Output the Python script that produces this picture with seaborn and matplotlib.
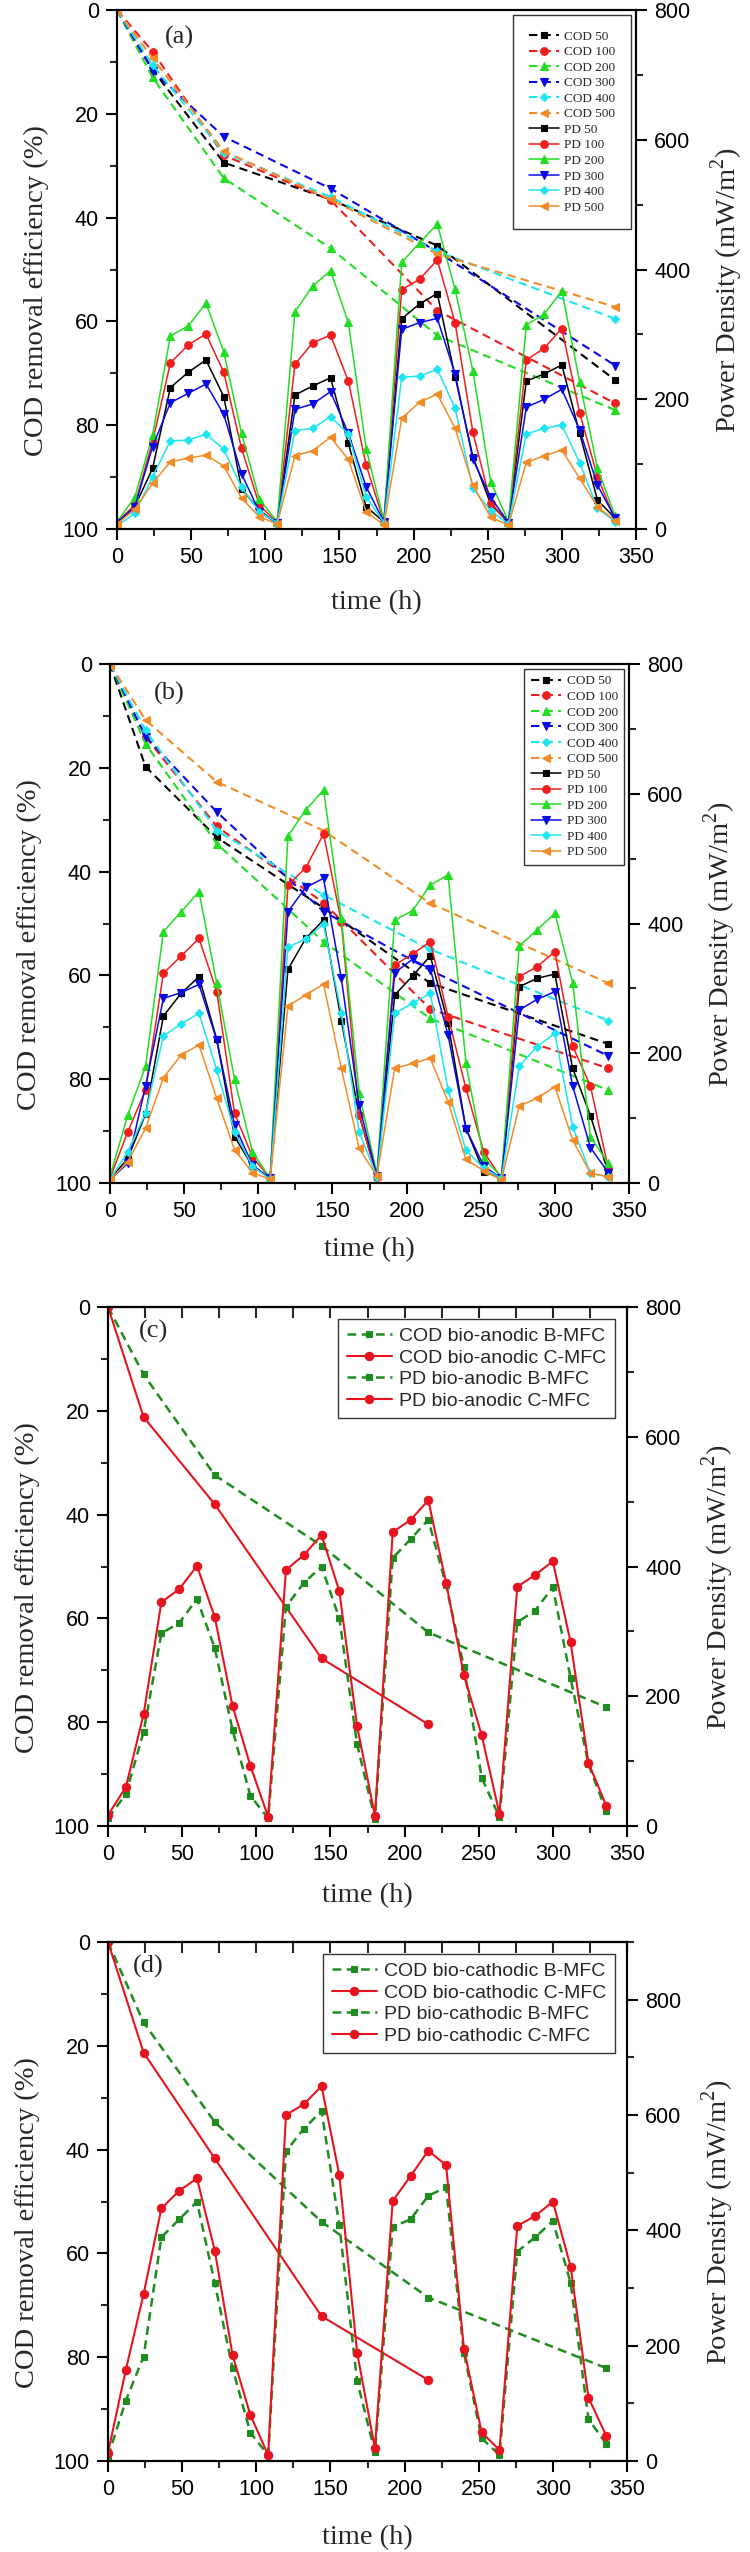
import numpy as np
import pandas as pd
import seaborn as sns
import matplotlib.pyplot as plt
from matplotlib.ticker import MultipleLocator

# time points (h)
t_pd = [0, 12, 24, 36, 48, 60, 72, 84, 96, 108, 120, 132, 144, 156, 168,
        180, 192, 204, 216, 228, 240, 252, 264, 276, 288, 300, 312, 324, 336]
t_cod = [0, 24, 72, 144, 216, 336]
t_cod_short = [0, 24, 72, 144, 216]

conc = ['50', '100', '200', '300', '400', '500']

# panel (a) COD removal (%)
cod_a_50 = [0, 11.5, 29.4, 36.5, 45.4, 71.3]
cod_a_100 = [0, 8.0, 28.0, 36.6, 57.9, 75.8]
cod_a_200 = [0, 13.0, 32.4, 45.9, 62.7, 77.1]
cod_a_300 = [0, 11.7, 24.4, 34.4, 46.6, 68.5]
cod_a_400 = [0, 10.6, 27.5, 36.0, 46.5, 59.5]
cod_a_500 = [0, 9.3, 27.2, 36.5, 47.0, 57.2]

# panel (a) power density (mW/m2)
pd_a_50 = [9.8, 34.4, 93.5, 218, 241.5, 260.5, 204, 62, 29, 8.7, 206.5, 220.4, 233, 132, 34.4,
           11, 324, 346.8, 363, 235, 111.5, 38.5, 9.8, 228, 239, 252.8, 147.5, 44.7, 16.4]
pd_a_100 = [11, 37, 134.6, 256, 283.6, 300.6, 241.5, 124.3, 37, 9.8, 254, 287, 299, 228, 98.7,
            11.3, 369, 385, 414.6, 318, 149, 40.6, 9.8, 260.5, 278.5, 309, 179, 80.7, 13.9]
pd_a_200 = [11.3, 48.8, 145, 297.5, 313, 348, 273, 147.5, 46, 11.3, 335, 374.6, 398, 318.6, 124,
            12.8, 411, 441, 470, 369.4, 243.5, 73, 11.3, 314.5, 331, 367, 227, 93.5, 20]
pd_a_300 = [9.8, 34, 127, 194.7, 209, 223.5, 176.7, 84.8, 26.7, 8.7, 184.5, 192.7, 211.7, 147.5, 65.2,
            11, 307.8, 318, 324.7, 239, 107.4, 48.8, 9.8, 187.6, 199.9, 215.3, 152.6, 67.8, 16.4]
pd_a_400 = [4.6, 24.2, 80.7, 136, 136.8, 146.4, 122.8, 64.2, 26.7, 9.8, 151.6, 155.2, 173.2, 146.4, 49.8,
            9.8, 233.8, 235.8, 246, 186, 62.7, 28.2, 7.7, 146.4, 155.2, 160.3, 102.2, 31.8, 11.3]
pd_a_500 = [7.7, 30.3, 70.4, 103.8, 108.9, 114, 97.1, 47.3, 19, 7.7, 113, 120.7, 141.3, 107.4, 26.7,
            6.2, 170.6, 195.3, 208, 155.2, 67.8, 18, 6.2, 102.8, 112.5, 121.8, 78.1, 34.4, 12.8]

# panel (b) COD removal (%)
cod_b_50 = [0, 19.8, 33.4, 47.0, 61.5, 73.2]
cod_b_100 = [0, 14.0, 31.3, 46.0, 66.5, 77.9]
cod_b_200 = [0, 15.4, 34.6, 53.5, 68.3, 82.1]
cod_b_300 = [0, 14.0, 28.5, 47.7, 59.0, 75.5]
cod_b_400 = [0, 12.8, 32.1, 44.5, 55.0, 68.7]
cod_b_500 = [0, 10.8, 22.7, 32.1, 46.1, 61.5]

# panel (b) power density (mW/m2)
pd_b_50 = [5.6, 38, 106.4, 257.4, 292.4, 318, 221.4, 71.4, 26.2, 7.2, 329.3, 377, 405.4, 250.2, 104.8,
           9.8, 289.8, 319, 350, 246, 84.3, 17.5, 7.2, 302.6, 315.5, 322, 176.7, 103.8, 15.9]
pd_b_100 = [7.2, 79.1, 143.3, 323.2, 350, 377, 295, 107.4, 40.6, 7.2, 459, 486, 538, 402.8, 104.8,
            9.8, 336, 353, 372, 256.4, 146, 48.3, 7.2, 318, 333.5, 356.6, 211, 149.5, 22.6]
pd_b_200 = [9.8, 104.8, 180, 387.4, 418, 449, 307.7, 159.8, 48.3, 7.2, 535, 575, 605.8, 408, 139.2,
            13.9, 405.4, 419.8, 459.3, 474.8, 185.5, 38, 9.8, 365.3, 390, 415.7, 308.8, 71.4, 30.3]
pd_b_300 = [5.6, 30.3, 149.5, 284.6, 293.4, 306.2, 220, 89.4, 27.7, 7.2, 418.2, 455.7, 469.6, 315.5, 120.2,
            10.8, 324.2, 344.7, 330, 228, 84, 26.2, 7.2, 266.7, 283, 295, 149.5, 54.5, 15.9]
pd_b_400 = [5.6, 48.3, 107.4, 226.6, 245, 261.5, 174.2, 79.1, 26.2, 5.6, 364.3, 375.6, 399.2, 261.5, 79.1,
            9.8, 261.5, 277, 292.4, 143.3, 50.9, 22.6, 7.2, 180.3, 210.1, 230.7, 86.8, 14.9, 9.8]
pd_b_500 = [5.1, 32.9, 84.3, 162.3, 197.3, 212.7, 130.5, 50.9, 15.9, 5.6, 272.8, 289.8, 306.7, 176.7, 53.4,
            10.8, 176.7, 184.4, 192.1, 125.4, 36.5, 19, 5.1, 118.7, 130.5, 148.5, 66.3, 14.9, 9.8]

# panel (c) bio-anodic
cod_c_b = [0, 13.0, 32.4, 46.0, 62.7, 77.1]
cod_c_c = [0, 21.2, 38.0, 67.7, 80.4]
pd_c_b = [11.8, 49, 145, 297, 313, 350, 274, 148, 46.7, 11.8, 338, 374.5, 400, 320, 126,
          10.8, 413, 442, 472, 371, 245.6, 74.5, 13.4, 314, 332, 368, 227.7, 95, 23]
pd_c_c = [17, 59.6, 172, 345, 365, 401, 322, 185, 93, 14, 394.6, 417.5, 448.6, 362, 154,
          15.4, 453, 471.7, 502, 375, 232.7, 140, 18.5, 368.7, 387, 408, 283, 97.6, 31.3]

# panel (d) bio-cathodic
cod_d_b = [0, 15.5, 34.7, 53.9, 68.5, 82.1]
cod_d_c = [0, 21.3, 41.7, 72.1, 84.4]
pd_d_b = [7.5, 104.6, 181, 388, 419, 449.6, 308, 160.7, 49, 10.4, 537, 576, 607, 409, 139,
          15, 406, 419, 460, 474.6, 187.8, 39.3, 10.4, 363, 388, 416, 309, 72.8, 29.5]
pd_d_c = [14.4, 157.8, 289.6, 438, 468.7, 490, 365, 183.8, 79.8, 10.4, 600, 618.6, 650, 496, 187.8,
          22, 451, 494, 538, 513, 195, 49.7, 19, 407.5, 425, 449.6, 337, 109.8, 43.9]

colors6 = ['black', '#F01E1E', '#22DD22', '#0A0AE6', '#1EE6F0', '#F28C28']
markers6 = ['s', 'o', '^', 'v', 'D', '<']
msizes6 = [5, 5.5, 6, 6, 4.5, 6]
green_d = '#1E8C1E'
red_d = '#E6141E'

sns.set_style("ticks")
plt.rcParams['font.family'] = ['Liberation Sans', 'DejaVu Sans']
plt.rcParams['axes.linewidth'] = 1.5
plt.rcParams['mathtext.fontset'] = 'custom'
plt.rcParams['mathtext.rm'] = 'Liberation Serif'
SERIF = ['Liberation Serif', 'DejaVu Serif']

fig = plt.figure(figsize=(7.5, 25.52), dpi=100)
W, H, S = 750, 2552, 519


def make_axes(left, top, pd_max, top_ticks):
    ax1 = fig.add_axes([left / W, 1 - (top + S) / H, S / W, S / H])
    ax2 = ax1.twinx()
    ax1.set_xlim(0, 350)
    ax1.set_ylim(100, 0)
    ax2.set_ylim(0, pd_max)
    ax1.xaxis.set_major_locator(MultipleLocator(50))
    ax1.xaxis.set_minor_locator(MultipleLocator(25))
    ax1.yaxis.set_major_locator(MultipleLocator(20))
    ax1.yaxis.set_minor_locator(MultipleLocator(10))
    ax2.yaxis.set_major_locator(MultipleLocator(200))
    ax2.yaxis.set_minor_locator(MultipleLocator(100))
    for a in (ax1, ax2):
        a.tick_params(which='major', direction='out', length=8, width=1.5,
                      labelsize=15.5, pad=5, colors='black')
        a.tick_params(which='minor', direction='out', length=5, width=1.5)
        for sp in a.spines.values():
            sp.set_linewidth(1.5)
            sp.set_color('black')
    ax1.tick_params(top=False, right=False)
    if top_ticks:
        sec = ax1.secondary_xaxis('top')
        sec.set_xticks(list(range(0, 351, 25)))
        sec.tick_params(direction='in', length=8, width=1.5, labeltop=False)
    return ax1, ax2


def line(ax, x, y, color, marker, ms, dashed, lw, label):
    ls = (0, (4, 2.5)) if dashed else '-'
    sns.lineplot(x=x, y=y, ax=ax, color=color, marker=marker, markersize=ms,
                 markeredgecolor=color, markeredgewidth=0.8, linewidth=lw,
                 linestyle=ls, legend=False, label=label)
    return ax.lines[-1]


def labels(ax1, ax2, xlab_y):
    ax1.set_xlabel('time (h)', fontsize=20.5, family=SERIF)
    ax1.set_ylabel('COD removal efficiency (%)', fontsize=20.5, family=SERIF)
    ax2.set_ylabel(r'Power Density (mW/m$^\mathregular{2}$)', fontsize=20.5, family=SERIF)
    ax1.xaxis.set_label_coords(0.5, xlab_y)
    ax1.yaxis.set_label_coords(-0.131, 0.46)
    ax2.yaxis.set_label_coords(1.14, 0.46)


def conc_panel(left, top, cods, pds, tag, tag_xy, xlab_y, bpad):
    ax1, ax2 = make_axes(left, top, 800, False)
    handles = []
    for i, c in enumerate(cods):
        handles.append(line(ax1, t_cod, c, colors6[i], markers6[i], msizes6[i], True, 1.5,
                            'COD ' + conc[i]))
    for i, p in enumerate(pds):
        handles.append(line(ax2, t_pd, p, colors6[i], markers6[i], msizes6[i], False, 1.1,
                            'PD ' + conc[i]))
    labels(ax1, ax2, xlab_y)
    leg = ax2.legend(handles=handles, labels=[h.get_label() for h in handles],
                     loc='upper right', prop={'family': SERIF, 'size': 9.5},
                     handlelength=2.3, handletextpad=0.4, labelspacing=0.25,
                     borderpad=bpad, borderaxespad=0.35, fancybox=False,
                     edgecolor='#333333', framealpha=1)
    leg.get_frame().set_linewidth(1.0)
    ax1.text(tag_xy[0], tag_xy[1], tag, fontsize=19, family=SERIF, ha='center', va='center')


def mfc_panel(left, top, cod_b, cod_c, pd_b, pd_c, kind, pd_max, tag, tag_xy, xlab_y):
    ax1, ax2 = make_axes(left, top, pd_max, True)
    h1 = line(ax1, t_cod, cod_b, green_d, 's', 5, True, 1.8, 'COD bio-%s B-MFC' % kind)
    h2 = line(ax1, t_cod_short, cod_c, red_d, 'o', 6, False, 1.5, 'COD bio-%s C-MFC' % kind)
    h3 = line(ax2, t_pd, pd_b, green_d, 's', 5, True, 1.8, 'PD bio-%s B-MFC' % kind)
    h4 = line(ax2, t_pd, pd_c, red_d, 'o', 6, False, 1.5, 'PD bio-%s C-MFC' % kind)
    for h in (h1, h3):
        h.set_linestyle((0, (3.5, 2.2)))
    labels(ax1, ax2, xlab_y)
    handles = [h1, h2, h3, h4]
    leg = ax2.legend(handles=handles, labels=[h.get_label() for h in handles],
                     loc='upper right', prop={'family': ['Liberation Sans'], 'size': 14},
                     handlelength=2.3, handletextpad=0.4, labelspacing=0.2,
                     borderpad=0.45, borderaxespad=0.6, fancybox=False,
                     edgecolor='#333333', framealpha=1)
    leg.get_frame().set_linewidth(1.0)
    ax1.text(tag_xy[0], tag_xy[1], tag, fontsize=19, family=SERIF, ha='center', va='center')


conc_panel(117, 10,
           [cod_a_50, cod_a_100, cod_a_200, cod_a_300, cod_a_400, cod_a_500],
           [pd_a_50, pd_a_100, pd_a_200, pd_a_300, pd_a_400, pd_a_500],
           '(a)', (42, 5.2), -0.1175, 1.2)
conc_panel(110, 664,
           [cod_b_50, cod_b_100, cod_b_200, cod_b_300, cod_b_400, cod_b_500],
           [pd_b_50, pd_b_100, pd_b_200, pd_b_300, pd_b_400, pd_b_500],
           '(b)', (40, 5.6), -0.104, 0.5)
mfc_panel(108, 1307, cod_c_b, cod_c_c, pd_c_b, pd_c_c, 'anodic', 800,
          '(c)', (31, 4.8), -0.11)
mfc_panel(108, 1942, cod_d_b, cod_d_c, pd_d_b, pd_d_c, 'cathodic', 900,
          '(d)', (27, 4.8), -0.123)

fig.savefig('out.png', dpi=100, facecolor='white')
